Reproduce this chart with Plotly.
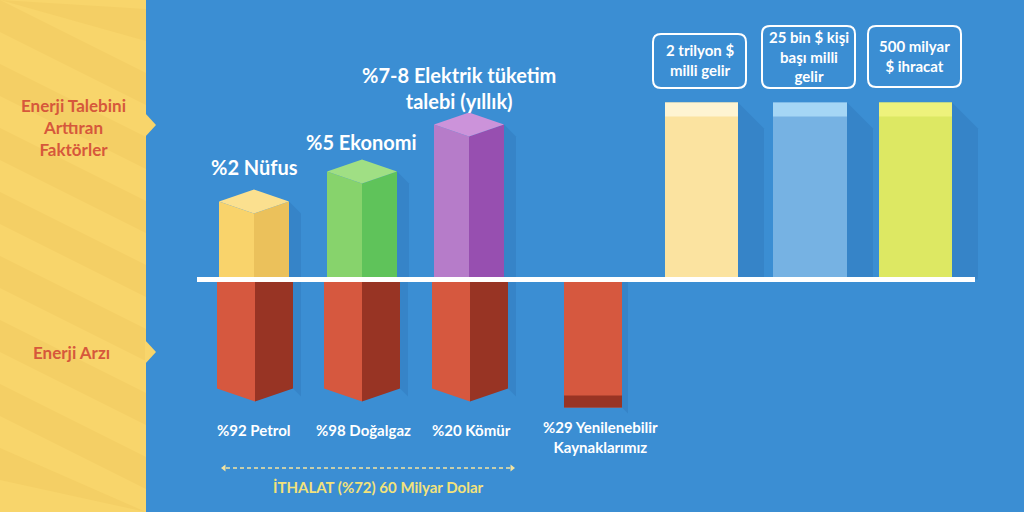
import plotly.graph_objects as go

# ---------------- data ----------------
demand_labels = ["%2 Nüfus", "%5 Ekonomi", "%7-8 Elektrik tüketim<br>talebi (yıllık)"]
demand_heights = [66, 96, 143]            # bar heights above the baseline
supply_labels = ["%92 Petrol", "%98 Doğalgaz", "%20 Kömür"]
supply_depths = [109, 109, 109]           # bar depths below the baseline
renew_label = "%29 Yenilenebilir<br>Kaynaklarımız"
renew_depth = 128
target_labels = ["2 trilyon $<br>milli gelir", "25 bin $ kişi<br>başı milli<br>gelir", "500 milyar<br>$ ihracat"]
target_heights = [177, 177, 177]
side_labels = ["Enerji Talebini<br>Arttıran<br>Faktörler", "Enerji Arzı"]
import_label = "İTHALAT (%72) 60 Milyar Dolar"

# ---------------- layout constants ----------------
W, H = 1024, 512
BASE = 279.5                      # pixel row of the baseline
def Y(py):                        # pixel row -> axis value
    return BASE - py

BLUE = "#3B8ED3"
SHADOW = "#3684C8"
PANEL = "#F8D56B"
PANEL_STRIPE = "#F4CF65"
LEFT_TXT = "#D6583B"
FONT = "Lato"

demand_x = [254, 362, 469]
demand_hw = 35
demand_cols = [("#F9D36B", "#EBC15B", "#FBE08F"),
               ("#87D36C", "#5FC35A", "#A0DF84"),
               ("#B67CC9", "#974FB0", "#CC93DA")]
supply_x = [255, 362, 470]
supply_hw = 38
RED_L, RED_R = "#D6583F", "#983424"
renew_x = (564, 622)
target_x = [(665, 738), (773, 847), (879, 952)]
target_cols = [("#FBE3A0", "#FEF4D2"), ("#76B2E3", "#A5D6F5"), ("#DDE863", "#EEF27C")]
box_rects = [(653, 34, 746, 88), (762, 26, 855, 88), (868, 26, 961, 87)]

fig = go.Figure()

def poly(xs, ys, color):
    fig.add_trace(go.Scatter(x=xs + [xs[0]], y=ys + [ys[0]], mode="lines",
                             fill="toself", fillcolor=color,
                             line=dict(width=0, color=color),
                             hoverinfo="skip", showlegend=False))

# ---- shadows ----
for cx, h in zip(demand_x, demand_heights):
    R = cx + demand_hw
    poly([R, R, R + 12, R + 12], [0, h + 12, h, 0], SHADOW)
for cx, d in zip(supply_x, supply_depths):
    R = cx + supply_hw
    poly([R, R, R + 8, R + 8], [0, -d, -d - 8, 0], SHADOW)
poly([renew_x[1], renew_x[1], renew_x[1] + 6, renew_x[1] + 6],
     [0, -renew_depth, -renew_depth - 6, 0], SHADOW)
for (x0, x1), h in zip(target_x, target_heights):
    poly([x1, x1 + 26, x1 + 26, x1], [h, h - 26, 0, 0], SHADOW)

# ---- demand 3D bars ----
for cx, h, (cl, cr, ct) in zip(demand_x, demand_heights, demand_cols):
    L, R = cx - demand_hw, cx + demand_hw
    poly([L, cx, cx, L], [0, 0, h, h + 12], cl)
    poly([cx, R, R, cx], [0, 0, h + 12, h], cr)
    poly([L, cx, R, cx], [h + 12, h, h + 12, h + 24], ct)

# ---- supply 3D bars ----
for cx, d in zip(supply_x, supply_depths):
    L, R = cx - supply_hw, cx + supply_hw
    poly([L, cx, cx, L], [0, 0, -d - 13, -d], RED_L)
    poly([cx, R, R, cx], [0, 0, -d, -d - 13], RED_R)

# ---- renewable flat bar ----
poly([renew_x[0], renew_x[1], renew_x[1], renew_x[0]], [0, 0, -renew_depth, -renew_depth], RED_L)
poly([renew_x[0], renew_x[1], renew_x[1], renew_x[0]],
     [-renew_depth + 12, -renew_depth + 12, -renew_depth, -renew_depth], RED_R)

# ---- target flat bars ----
for (x0, x1), h, (cb, ct) in zip(target_x, target_heights, target_cols):
    poly([x0, x1, x1, x0], [0, 0, h, h], cb)
    poly([x0, x1, x1, x0], [h - 14, h - 14, h, h], ct)

# ---- arrow heads of import arrow ----
fig.add_trace(go.Scatter(x=[224, 512], y=[Y(468), Y(468)], mode="markers",
                         marker=dict(symbol=["triangle-left", "triangle-right"], size=6,
                                     color="#F3E3A0"),
                         hoverinfo="skip", showlegend=False))

shapes = []
# left yellow panel
shapes.append(dict(type="rect", x0=0, x1=146, y0=Y(512), y1=Y(0), fillcolor=PANEL,
                   line=dict(width=0), layer="below"))
# diagonal stripes
period, sw, slope = 64, 32, 0.5
k = -6
while k * period < 512 + 80:
    p0 = k * period
    xs = [0, 146, 146, 0]
    pys = [p0, p0 + 146 * slope, p0 + 146 * slope + sw, p0 + sw]
    path = "M " + " L ".join(f"{x},{Y(max(min(py, 512), 0))}" for x, py in zip(xs, pys)) + " Z"
    shapes.append(dict(type="path", path=path, fillcolor=PANEL_STRIPE,
                       line=dict(width=0), layer="below"))
    k += 1
# notches
for cy in (125, 352):
    shapes.append(dict(type="path",
                       path=f"M 145,{Y(cy - 12)} L 156,{Y(cy)} L 145,{Y(cy + 12)} Z",
                       fillcolor=PANEL, line=dict(width=0), layer="below"))
# baseline
shapes.append(dict(type="rect", x0=197, x1=975, y0=Y(282), y1=Y(277),
                   fillcolor="white", line=dict(width=0), layer="above"))
# dashed import arrow
shapes.append(dict(type="line", x0=226, x1=510, y0=Y(468), y1=Y(468),
                   line=dict(color="#F3E3A0", width=1.5, dash="4px,3px"), layer="above"))
# rounded boxes
r = 8
for (x0, py0, x1, py1) in box_rects:
    t, b = Y(py0), Y(py1)
    path = (f"M {x0 + r},{t} L {x1 - r},{t} Q {x1},{t} {x1},{t - r} "
            f"L {x1},{b + r} Q {x1},{b} {x1 - r},{b} L {x0 + r},{b} "
            f"Q {x0},{b} {x0},{b + r} L {x0},{t - r} Q {x0},{t} {x0 + r},{t} Z")
    shapes.append(dict(type="path", path=path, line=dict(color="white", width=2),
                       fillcolor="rgba(0,0,0,0)", layer="above"))

ann = []
def text(x, py, s, size, color="white", weight="bold"):
    ann.append(dict(x=x, y=Y(py), text=s, showarrow=False, xanchor="center", yanchor="middle",
                    font=dict(family=FONT, size=size, color=color, weight=weight)))

demand_label_py = [167, 142, 88]
for cx, py, s in zip([254, 361, 459], demand_label_py, demand_labels):
    text(cx, py, s, 20)
for cx, s in zip([254, 363, 471], supply_labels):
    text(cx, 430, s, 15)
text(600, 437, renew_label, 15)
for (x0, py0, x1, py1), s in zip(box_rects, target_labels):
    text((x0 + x1) / 2, (py0 + py1) / 2 - 1, s, 15)
text(73, 127, side_labels[0], 17, LEFT_TXT)
text(71, 352, side_labels[1], 17, LEFT_TXT)
text(378, 487, import_label, 15, "#F2E27B")

fig.update_layout(
    width=W, height=H, margin=dict(l=0, r=0, t=0, b=0),
    paper_bgcolor=BLUE, plot_bgcolor=BLUE,
    xaxis=dict(range=[0, W], visible=False, fixedrange=True),
    yaxis=dict(range=[Y(H), Y(0)], visible=False, fixedrange=True),
    shapes=shapes, annotations=ann, showlegend=False,
)
fig.write_html("out.html")
